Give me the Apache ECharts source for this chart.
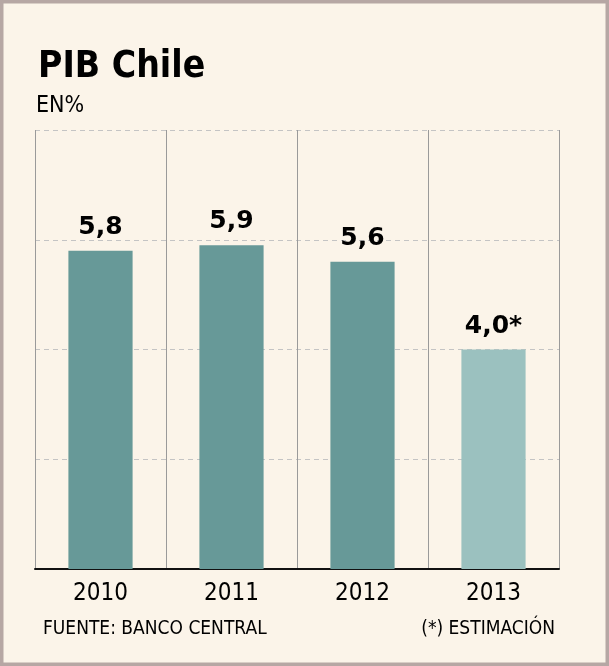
<!DOCTYPE html>
<html>
<head>
<meta charset="utf-8">
<script src="https://cdn.jsdelivr.net/npm/echarts@6/dist/echarts.min.js"></script>
<style>
html, body { margin: 0; padding: 0; background: #fbf4e9; }
#chart01 { width: 609px; height: 666px; }
</style>
</head>
<body>
<div id="chart01"></div>
<script>
var years = ['2010', '2011', '2012', '2013'];
var pib = [5.8, 5.9, 5.6, 4.0];
var labels = ['5,8', '5,9', '5,6', '4,0*'];
var colors = ['#679998', '#679998', '#679998', '#9bc1bf'];

var myChart = echarts.init(document.getElementById('chart01'));
var option = {
    backgroundColor: '#fbf4e9',
    animation: false,
    title: {
        text: 'PIB Chile',
        left: 33,
        top: 44,
        textStyle: { fontFamily: 'DejaVu Sans Condensed', fontWeight: 'bold', fontSize: 37, color: '#000' }
    },
    grid: { left: 35, right: 50, top: 130, bottom: 97 },
    xAxis: {
        type: 'category',
        data: years,
        axisLine: { lineStyle: { color: '#111', width: 2 } },
        axisTick: { show: false },
        axisLabel: { fontFamily: 'DejaVu Sans Condensed', fontSize: 24, color: '#000', margin: 13 },
        splitLine: { show: true, interval: 0, lineStyle: { color: '#9a9a9a', width: 1 } }
    },
    yAxis: {
        type: 'value',
        min: 0,
        max: 8,
        interval: 2,
        axisLabel: { show: false },
        axisLine: { show: false },
        axisTick: { show: false },
        splitLine: { lineStyle: { color: '#c4c4c4', type: [5, 4] } }
    },
    series: [{
        type: 'bar',
        barWidth: '49%',
        data: pib.map(function (v, i) {
            return { value: v, itemStyle: { color: colors[i] } };
        }),
        label: {
            show: true,
            position: 'top',
            distance: 11,
            fontFamily: 'DejaVu Sans',
            fontWeight: 'bold',
            fontSize: 25,
            color: '#000',
            formatter: function (p) { return labels[p.dataIndex]; }
        }
    }],
    graphic: [
        { type: 'text', left: 36, top: 95, style: { text: 'EN%', fontFamily: 'DejaVu Sans Condensed', fontSize: 23, fill: '#000' } },
        { type: 'text', left: 43, top: 620, style: { text: 'FUENTE: BANCO CENTRAL', fontFamily: 'DejaVu Sans Condensed', fontSize: 19, fill: '#000' } },
        { type: 'text', right: 54, top: 620, style: { text: '(*) ESTIMACIÓN', fontFamily: 'DejaVu Sans Condensed', fontSize: 19, fill: '#000' } },
        { type: 'rect', shape: { x: 0, y: 0, width: 609, height: 666 }, style: { fill: 'none', stroke: '#b6a7a4', lineWidth: 7 }, silent: true }
    ]
};
if (option && typeof option === "object") {
    myChart.setOption(option, true);
}
</script>
</body>
</html>
